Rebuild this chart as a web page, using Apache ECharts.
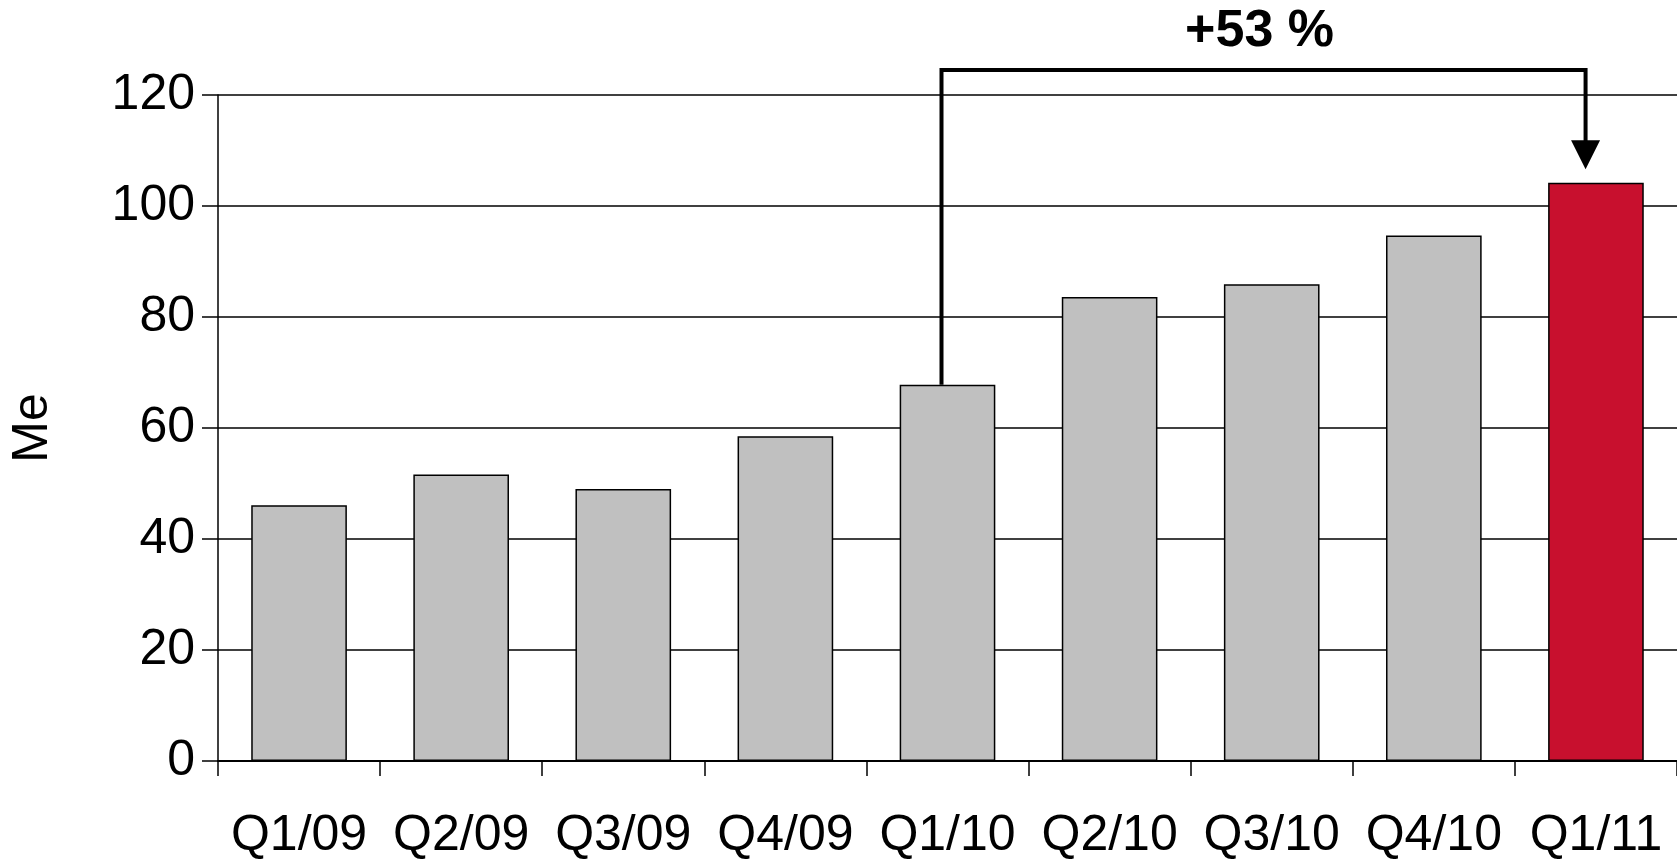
<!DOCTYPE html>
<html>
<head>
<meta charset="utf-8">
<style>
html,body{margin:0;padding:0;background:#fff;}
#chart{width:1677px;height:861px;}
</style>
<script src="https://cdn.jsdelivr.net/npm/echarts@6/dist/echarts.min.js"></script>
</head>
<body>
<div id="chart"></div>
<script>
// ---- data ----
var categories = ['Q1/09','Q2/09','Q3/09','Q4/09','Q1/10','Q2/10','Q3/10','Q4/10','Q1/11'];
var values = [46.1, 51.6, 49.0, 58.5, 67.8, 83.6, 85.9, 94.7, 104.2];
var highlightCategory = 'Q1/11';
var yTicks = [0, 20, 40, 60, 80, 100, 120];
var yAxisName = 'Me';
// bracket annotation
var bracketStart = ['Q1/10', 67.8];
var bracketTop = [124.5];
var bracketEnd = ['Q1/11', 106.6];
var bracketLabel = ['+53 %'];

var FONT = '"Liberation Sans", Arial, Helvetica, sans-serif';
var GRAY = '#C0C0C0';
var RED = '#C8102E';

var chart = echarts.init(document.getElementById('chart'));

var barData = values.map(function (v, i) {
  return {
    value: v,
    itemStyle: { color: categories[i] === highlightCategory ? RED : GRAY }
  };
});

var option = {
  animation: false,
  backgroundColor: '#ffffff',
  grid: { left: 211, right: -5, top: 95, bottom: 93, containLabel: false },
  xAxis: {
    type: 'category',
    data: categories,
    axisLine: { show: true, lineStyle: { color: '#000', width: 2 } },
    axisTick: { show: true, length: 15, lineStyle: { color: '#000', width: 1.5 } },
    axisLabel: { color: '#000', fontSize: 50, fontFamily: FONT, margin: 50, interval: 0 },
    splitLine: { show: false }
  },
  yAxis: {
    type: 'value',
    min: yTicks[0],
    max: yTicks[yTicks.length - 1],
    interval: yTicks[1] - yTicks[0],
    name: yAxisName,
    nameLocation: 'middle',
    nameGap: 160,
    nameRotate: 90,
    nameTextStyle: { color: '#000', fontSize: 50, fontFamily: FONT },
    axisLine: { show: true, lineStyle: { color: '#000', width: 1.5 } },
    axisTick: { show: true, length: 16, lineStyle: { color: '#000', width: 1.5 } },
    axisLabel: { color: '#000', fontSize: 50, fontFamily: FONT, margin: 23 },
    splitLine: { show: true, lineStyle: { color: '#000', width: 1.5 } }
  },
  series: [
    {
      type: 'bar',
      data: barData,
      barWidth: '59%',
      itemStyle: { borderColor: '#000', borderWidth: 1.5 },
      z: 2
    },
    {
      type: 'custom',
      clip: false,
      z: 5,
      data: [[bracketStart[0], bracketStart[1], bracketTop[0], bracketEnd[0], bracketEnd[1]]],
      renderItem: function (params, api) {
        var s = api.coord([api.value(0), api.value(1)]);
        var t = api.coord([api.value(0), api.value(2)]);
        var e = api.coord([api.value(3), api.value(4)]);
        var band = api.size([1, 0])[0];
        var x1 = s[0] - band * 0.037;
        var x2 = e[0] - band * 0.064;
        var yTop = t[1];
        var yTip = e[1];
        var headH = 29, headW = 29;
        var lw = 4;
        return {
          type: 'group',
          children: [
            {
              type: 'polyline',
              shape: { points: [[x1, s[1]], [x1, yTop], [x2, yTop], [x2, yTip - headH + 2]] },
              style: { stroke: '#000', lineWidth: lw, fill: null, lineJoin: 'miter' }
            },
            {
              type: 'polygon',
              shape: { points: [[x2 - headW / 2, yTip - headH], [x2 + headW / 2, yTip - headH], [x2, yTip]] },
              style: { fill: '#000' }
            },
            {
              type: 'text',
              style: {
                text: bracketLabel[0],
                x: (x1 + x2) / 2 - 4,
                y: yTop - 38,
                align: 'center',
                verticalAlign: 'middle',
                fontSize: 52,
                fontWeight: 'bold',
                fontFamily: FONT,
                fill: '#000'
              }
            }
          ]
        };
      }
    }
  ]
};

chart.setOption(option);
</script>
</body>
</html>
